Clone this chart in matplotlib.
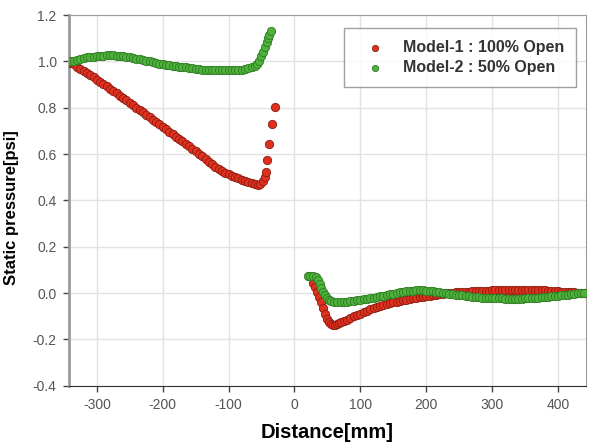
import matplotlib
matplotlib.use("Agg")
import matplotlib.pyplot as plt

plt.rcParams["font.family"] = ["Liberation Sans", "DejaVu Sans"]
plt.rcParams["axes.unicode_minus"] = False

# upstream section (shared x grid, mm)
x_up = [-340, -335, -330, -325, -320, -315, -310, -305, -300, -295,
        -290, -285, -280, -275, -270, -265, -260, -255, -250, -245,
        -240, -235, -230, -225, -220, -215, -210, -205, -200, -195,
        -190, -185, -180, -175, -170, -165, -160, -155, -150, -145,
        -140, -135, -130, -125, -120, -115, -110, -105, -100, -95,
        -90, -85, -80, -75, -70, -65, -60]
red_up = [0.995, 0.987, 0.978, 0.969, 0.960, 0.951, 0.942, 0.932, 0.922, 0.912,
          0.902, 0.892, 0.882, 0.872, 0.862, 0.852, 0.842, 0.832, 0.822, 0.812,
          0.801, 0.791, 0.780, 0.770, 0.759, 0.749, 0.739, 0.728, 0.718, 0.707,
          0.697, 0.686, 0.675, 0.665, 0.655, 0.645, 0.635, 0.624, 0.613, 0.602,
          0.590, 0.578, 0.567, 0.556, 0.546, 0.537, 0.528, 0.520, 0.513, 0.506,
          0.500, 0.495, 0.490, 0.485, 0.480, 0.475, 0.470]
green_up = [1.000, 1.004, 1.008, 1.011, 1.014, 1.017, 1.019, 1.021, 1.023, 1.024,
            1.025, 1.026, 1.026, 1.026, 1.025, 1.024, 1.022, 1.020, 1.018, 1.015,
            1.012, 1.009, 1.006, 1.003, 1.000, 0.997, 0.994, 0.991, 0.988, 0.986,
            0.984, 0.982, 0.980, 0.978, 0.976, 0.974, 0.972, 0.970, 0.968, 0.966,
            0.965, 0.964, 0.963, 0.962, 0.962, 0.962, 0.962, 0.962, 0.962, 0.962,
            0.963, 0.964, 0.965, 0.967, 0.970, 0.975, 0.981]

# steep rise just before the orifice
x_red_tail = [-56, -52, -48, -45, -43, -41, -38, -34, -30]
red_tail = [0.467, 0.470, 0.482, 0.500, 0.522, 0.575, 0.645, 0.732, 0.805]
x_green_tail = [-57, -54, -51, -48, -45, -42, -40, -38, -36]
green_tail = [0.990, 1.003, 1.022, 1.042, 1.064, 1.085, 1.100, 1.115, 1.132]

# downstream section
x_red_head = [28, 31, 34, 37, 40, 43, 46, 49, 52, 55, 58, 61, 64, 67, 70, 75, 80]
red_head = [0.045, 0.025, 0.005, -0.015, -0.040, -0.065, -0.090, -0.110, -0.125,
            -0.133, -0.137, -0.137, -0.134, -0.130, -0.126, -0.120, -0.114]
x_green_head = [20, 24, 28, 32, 35, 38, 41, 44, 47, 50, 53, 56, 60, 65, 70, 75, 80]
green_head = [0.072, 0.075, 0.075, 0.070, 0.055, 0.040, 0.022, 0.005, -0.010,
              -0.020, -0.028, -0.034, -0.038, -0.040, -0.040, -0.039, -0.037]

x_down = [85, 90, 95, 100, 105, 110, 115, 120, 125, 130, 135, 140, 145, 150,
          155, 160, 165, 170, 175, 180, 185, 190, 195, 200, 205, 210, 215, 220,
          225, 230, 235, 240, 245, 250, 255, 260, 265, 270, 275, 280, 285, 290,
          295, 300, 305, 310, 315, 320, 325, 330, 335, 340, 345, 350, 355, 360,
          365, 370, 375, 380, 385, 390, 395, 400, 405, 410, 415, 420, 425, 430,
          435, 440]
red_down = [-0.108, -0.100, -0.094, -0.088, -0.082, -0.076, -0.070, -0.065, -0.060,
            -0.055, -0.051, -0.047, -0.043, -0.040, -0.037, -0.034, -0.031, -0.028,
            -0.025, -0.022, -0.020, -0.018, -0.016, -0.013, -0.011, -0.009, -0.007,
            -0.005, -0.003, -0.001, 0.000, 0.002, 0.003, 0.004, 0.005, 0.006, 0.007,
            0.008, 0.009, 0.010, 0.010, 0.011, 0.011, 0.012, 0.012, 0.013, 0.013,
            0.013, 0.014, 0.014, 0.014, 0.014, 0.014, 0.014, 0.014, 0.013, 0.013,
            0.013, 0.012, 0.012, 0.011, 0.010, 0.009, 0.008, 0.007, 0.006, 0.005,
            0.004, 0.003, 0.002, 0.001, 0.000]
green_down = [-0.035, -0.033, -0.031, -0.029, -0.027, -0.025, -0.023, -0.020, -0.017,
              -0.014, -0.011, -0.008, -0.005, -0.002, 0.001, 0.004, 0.006, 0.008,
              0.010, 0.011, 0.012, 0.012, 0.012, 0.011, 0.010, 0.008, 0.006, 0.004,
              0.002, 0.000, -0.002, -0.004, -0.006, -0.008, -0.010, -0.012, -0.014,
              -0.016, -0.017, -0.018, -0.019, -0.020, -0.021, -0.022, -0.022, -0.023,
              -0.023, -0.024, -0.024, -0.024, -0.024, -0.024, -0.024, -0.023, -0.022,
              -0.021, -0.020, -0.019, -0.018, -0.017, -0.015, -0.014, -0.013, -0.012,
              -0.010, -0.008, -0.006, -0.004, -0.002, 0.000, 0.001, 0.002]

labels = ["Model-1 : 100% Open", "Model-2 : 50% Open"]
x_ticks = [-300, -200, -100, 0, 100, 200, 300, 400]
y_ticks = [-0.4, -0.2, 0.0, 0.2, 0.4, 0.6, 0.8, 1.0, 1.2]

red_face, red_edge = "#e0301e", "#8a1d12"
green_face, green_edge = "#4fb23c", "#2d7a22"

fig = plt.figure(figsize=(5.91, 4.44), dpi=100, facecolor="white")
ax = fig.add_axes([0.117, 0.131, 0.874, 0.835])

red_x = x_up + x_red_tail + x_red_head + x_down
red_y = red_up + red_tail + red_head + red_down
green_x = x_up + x_green_tail + x_green_head + x_down
green_y = green_up + green_tail + green_head + green_down

ax.scatter(red_x, red_y, s=36, facecolor=red_face, edgecolor=red_edge,
           linewidth=0.6, zorder=3, label=labels[0])
ax.scatter(green_x, green_y, s=36, facecolor=green_face, edgecolor=green_edge,
           linewidth=0.6, zorder=4, label=labels[1])

ax.set_xlim(-342, 442)
ax.set_ylim(-0.4, 1.2)
ax.set_xticks(x_ticks)
ax.set_yticks(y_ticks)
ax.set_yticklabels([f"{v:.1f}" for v in y_ticks])
ax.grid(True, color="#e2e2e2", linewidth=1.0, zorder=0)
ax.set_axisbelow(True)

ax.tick_params(axis="both", labelsize=10, labelcolor="#555555", length=4,
               width=1, color="#444444", direction="out", pad=5)
ax.spines["left"].set_color("#9a9a9a")
ax.spines["left"].set_linewidth(2.0)
ax.spines["bottom"].set_color("#333333")
ax.spines["top"].set_color("#9a9a9a")
ax.spines["right"].set_color("#9a9a9a")

ax.set_xlabel("Distance[mm]", fontsize=14.5, fontweight="bold", labelpad=8)
ax.set_ylabel("Static pressure[psi]", fontsize=12, fontweight="bold", labelpad=12)
ax.yaxis.set_label_coords(-0.098, 0.48)

leg = ax.legend(loc="upper right", bbox_to_anchor=(0.981, 0.965), fancybox=False,
                prop={"weight": "bold", "size": 11.5}, markerscale=0.75,
                handletextpad=0.5, borderpad=0.75, labelspacing=0.3,
                borderaxespad=0, handlelength=2.4)
leg.get_frame().set_edgecolor("#888888")
leg.get_frame().set_linewidth(1.0)
for t in leg.get_texts():
    t.set_color("#333333")

fig.savefig("out.png", dpi=100, facecolor="white")
